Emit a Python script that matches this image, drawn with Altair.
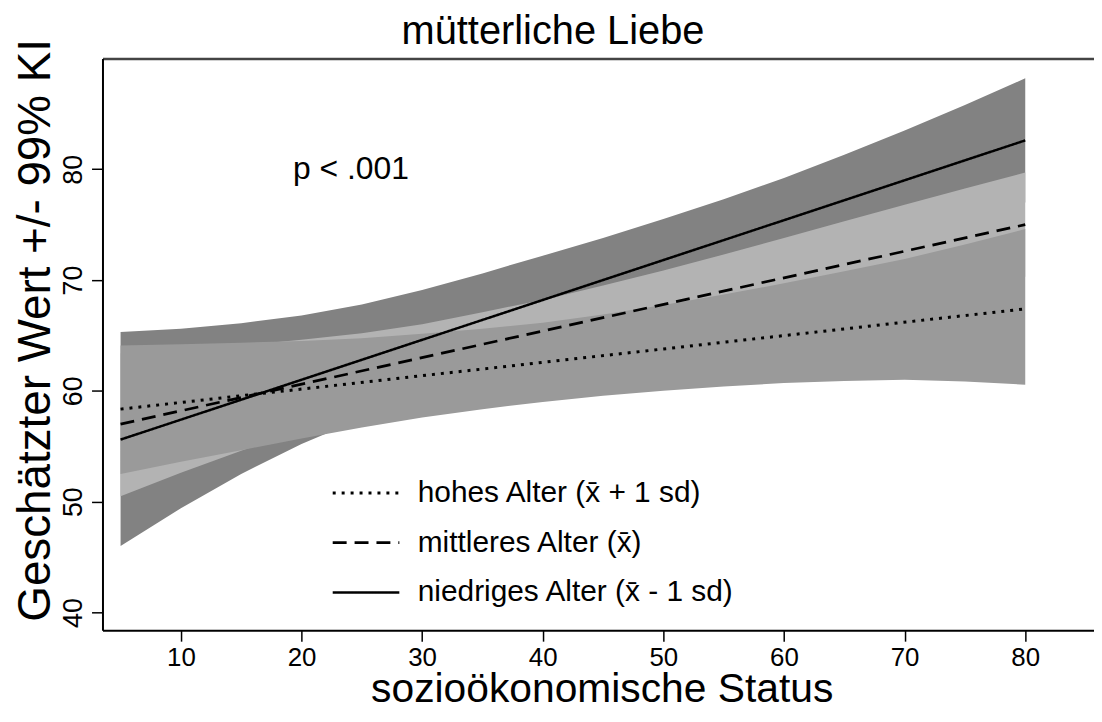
import altair as alt
import pandas as pd

# ---- data ----
band_x = [5, 10, 15, 20, 25, 30, 35, 40, 45, 50, 55, 60, 65, 70, 75, 80]
# niedriges Alter band (darkest, drawn first)
niedrig_hi = [65.3, 65.6, 66.1, 66.8, 67.8, 69.1, 70.6, 72.2, 73.8, 75.5, 77.3, 79.2, 81.3, 83.5, 85.8, 88.2]
niedrig_lo = [46.0, 49.4, 52.5, 55.2, 57.5, 59.7, 61.8, 63.8, 65.7, 67.6, 69.5, 71.2, 72.8, 74.3, 75.7, 77.0]
# mittleres Alter band (light)
mittel_hi = [63.4, 63.7, 64.1, 64.6, 65.2, 66.0, 67.1, 68.2, 69.5, 70.85, 72.3, 73.8, 75.3, 76.8, 78.25, 79.7]
mittel_lo = [50.5, 52.6, 54.6, 56.5, 58.3, 59.9, 61.3, 62.5, 63.7, 64.8, 65.7, 66.6, 67.5, 68.4, 69.35, 70.3]
# hohes Alter band (medium, drawn last)
hoch_hi = [64.1, 64.2, 64.35, 64.5, 64.75, 65.15, 65.6, 66.15, 66.9, 67.75, 68.7, 69.7, 70.8, 71.9, 73.2, 74.6]
hoch_lo = [52.5, 53.6, 54.65, 55.7, 56.7, 57.6, 58.35, 59.0, 59.55, 60.0, 60.4, 60.7, 60.9, 61.0, 60.85, 60.55]

line_x = [5, 80]
line_hoch = [58.35, 67.4]
line_mittel = [57.0, 75.0]
line_niedrig = [55.6, 82.6]

series = ["hohes Alter (x\u0304 + 1 sd)", "mittleres Alter (x\u0304)", "niedriges Alter (x\u0304 - 1 sd)"]
dash_styles = [[3, 6], [14, 8], [1, 0]]
stroke_widths = [3, 2.5, 2]
band_colors = {"niedrig": "#828282", "mittel": "#b3b3b3", "hoch": "#9a9a9a"}

x_ticks = [10, 20, 30, 40, 50, 60, 70, 80]
y_ticks = [40, 50, 60, 70, 80]

note_x = [19.3]
note_y = [80]
note_text = ["p < .001"]

chart_title = ["mütterliche Liebe"]

FONT = "Liberation Sans"

# ---- tables ----
bands = pd.DataFrame({
    "x": band_x * 3,
    "lo": niedrig_lo + mittel_lo + hoch_lo,
    "hi": niedrig_hi + mittel_hi + hoch_hi,
    "band": ["niedrig"] * 16 + ["mittel"] * 16 + ["hoch"] * 16,
})
lines = pd.DataFrame({
    "x": line_x * 3,
    "y": line_hoch + line_mittel + line_niedrig,
    "serie": [series[0]] * 2 + [series[1]] * 2 + [series[2]] * 2,
})
notes = pd.DataFrame({"x": note_x, "y": note_y, "t": note_text})
titles = pd.DataFrame({"t": chart_title})

xscale = alt.Scale(domain=[3.5, 85.7], nice=False, zero=False)
yscale = alt.Scale(domain=[38.4, 90], nice=False, zero=False)

x_axis = alt.Axis(
    values=x_ticks, grid=False, title="sozioökonomische Status",
    labelFont=FONT, labelFontSize=26, labelColor="black", labelPadding=3,
    tickSize=11, tickWidth=1.5, tickColor="black",
    domainColor="black", domainWidth=2,
    titleFont=FONT, titleFontSize=41, titleFontWeight="normal", titleColor="black",
    titleX=502, titleY=72, titleAlign="center", titleBaseline="alphabetic",
)
y_axis = alt.Axis(
    values=y_ticks, grid=False, title="Geschätzter Wert +/- 99% KI",
    labelFont=FONT, labelFontSize=27, labelColor="black", labelAngle=270,
    labelAlign="center", labelBaseline="alphabetic", labelPadding=10,
    tickSize=11, tickWidth=1.5, tickColor="black",
    domainColor="black", domainWidth=2,
    titleFont=FONT, titleFontSize=46, titleFontWeight="normal", titleColor="black",
    titleAngle=270, titleX=-53, titleY=273, titleAlign="center", titleBaseline="alphabetic",
)
top_axis = alt.Axis(orient="top", labels=False, ticks=False, title=None, grid=False,
                    domainColor="#444444", domainWidth=2.5)

layers = []
for i, key in enumerate(["niedrig", "mittel", "hoch"]):
    layers.append(
        alt.Chart(bands).transform_filter(alt.datum.band == key)
        .mark_area(color=band_colors[key], opacity=1)
        .encode(
            x=alt.X("x:Q", scale=xscale, axis=x_axis if i == 0 else None),
            y=alt.Y("lo:Q", scale=yscale, axis=y_axis),
            y2="hi:Q",
        )
    )

line_layer = alt.Chart(lines).mark_line(color="black").encode(
    x=alt.X("x:Q", scale=xscale, axis=None),
    y=alt.Y("y:Q", scale=yscale, axis=y_axis),
    strokeDash=alt.StrokeDash(
        "serie:N",
        scale=alt.Scale(domain=series, range=dash_styles),
        legend=alt.Legend(
            orient="none", legendX=230, legendY=402, title=None,
            symbolType="stroke", symbolSize=4489, symbolStrokeWidth=2.5,
            symbolStrokeColor="black",
            labelFont=FONT, labelFontSize=30, labelColor="black", labelOffset=17,
            labelLimit=600, rowPadding=-26, padding=0,
        ),
    ),
    strokeWidth=alt.StrokeWidth(
        "serie:N", scale=alt.Scale(domain=series, range=stroke_widths), legend=None
    ),
)

note_layer = alt.Chart(notes).mark_text(
    align="left", baseline="middle", font=FONT, fontSize=32, color="black"
).encode(
    x=alt.X("x:Q", scale=xscale, axis=top_axis),
    y=alt.Y("y:Q", scale=yscale, axis=y_axis),
    text="t:N",
)

# chart title, placed above the plot frame
title_layer = alt.Chart(titles).mark_text(
    align="center", baseline="alphabetic", font=FONT, fontSize=40, color="black"
).encode(
    x=alt.value(453),
    y=alt.value(-14),
    text="t:N",
)

chart = (
    alt.layer(*layers, line_layer, note_layer, title_layer)
    .resolve_axis(x="independent")
    .properties(
        width=997, height=575,
        autosize=alt.AutoSizeParams(type="none"),
        padding={"left": 95, "top": 48.7, "right": 0, "bottom": 90},
        background="white",
    )
    .configure_view(strokeWidth=0)
)

chart.save("out.html", embed_options={"renderer": "svg", "actions": False})
